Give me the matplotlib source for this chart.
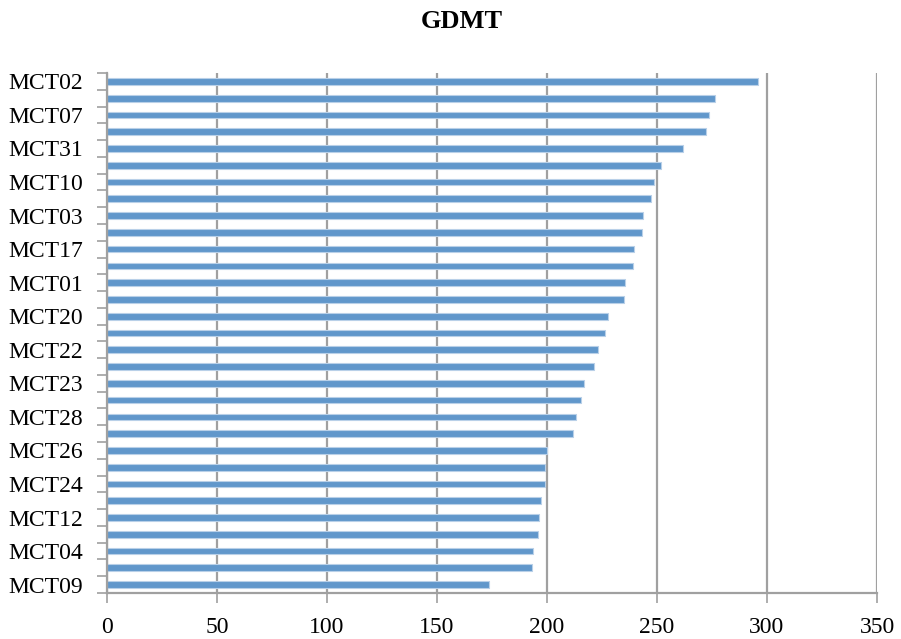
import matplotlib
matplotlib.use("Agg")
import matplotlib.pyplot as plt
import numpy as np

# GDMT per site, sorted from largest to smallest (top to bottom)
sites = [
    "MCT02", "MCT05", "MCT07", "MCT06", "MCT31", "MCT08", "MCT10", "MCT11",
    "MCT03", "MCT13", "MCT17", "MCT14", "MCT01", "MCT15", "MCT20", "MCT16",
    "MCT22", "MCT18", "MCT23", "MCT19", "MCT28", "MCT21", "MCT26", "MCT25",
    "MCT24", "MCT27", "MCT12", "MCT29", "MCT04", "MCT30", "MCT09",
]
gdmt = [
    295.8, 276.5, 273.6, 272.4, 261.7, 251.8, 248.8, 247.1,
    243.6, 243.2, 239.4, 239.2, 235.6, 235.0, 227.6, 226.5,
    223.3, 221.2, 216.7, 215.5, 213.2, 211.9, 200.1, 198.9,
    198.9, 197.4, 196.2, 195.9, 193.6, 193.3, 173.8,
]
x_ticks = [0, 50, 100, 150, 200, 250, 300, 350]

plt.rcParams["font.family"] = ["Liberation Serif", "DejaVu Serif"]

fig = plt.figure(figsize=(9.01, 6.39), dpi=100)
ax = fig.add_axes([107 / 901, 1 - 593 / 639, (877 - 107) / 901, (593 - 73) / 639])

pos = np.arange(len(sites))
ax.barh(pos, gdmt, height=0.4, color="#6197CB", edgecolor="#B9D0E8",
        linewidth=0.8, zorder=3)

ax.set_xlim(0, 350)
ax.set_ylim(len(sites) - 0.5, -0.5)

ax.set_xticks(x_ticks)
ax.set_xticklabels([str(v) for v in x_ticks], fontsize=17)
ax.grid(axis="x", color="#A0A0A0", linewidth=1.6, zorder=1)

# Labels on every other category, tick marks on category boundaries
ax.set_yticks(pos[::2])
ax.set_yticklabels(sites[::2], fontsize=17)
ax.set_yticks(np.arange(len(sites) + 1) - 0.5, minor=True)
ax.tick_params(axis="y", which="major", length=0, pad=17)
ax.tick_params(axis="y", which="minor", length=7, width=1.2, color="#A0A0A0")
ax.tick_params(axis="x", which="major", length=7, width=1.2, color="#A0A0A0", pad=10)

for side in ("top", "right"):
    ax.spines[side].set_visible(False)
for side in ("left", "bottom"):
    ax.spines[side].set_color("#A0A0A0")
    ax.spines[side].set_linewidth(1.6)
    ax.spines[side].set_zorder(4)

fig.text(462 / 901, 1 - 21 / 639, "GDMT", ha="center", va="center",
         fontsize=19, fontweight="bold")

fig.savefig("out.png", dpi=100)
